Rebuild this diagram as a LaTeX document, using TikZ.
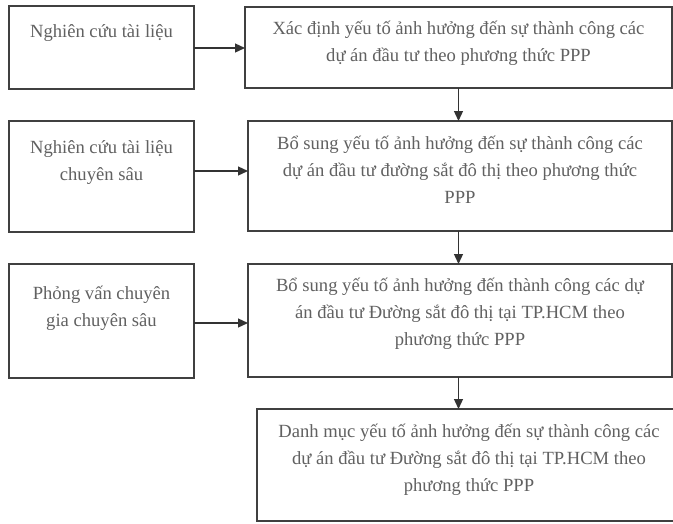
\documentclass[tikz,border=0pt]{standalone}
\usepackage{fontspec}
\setmainfont{Liberation Serif}
\usetikzlibrary{arrows.meta}
\tikzset{
  box/.style={draw=black!75, line width=1.7pt, fill=white, anchor=north west, inner sep=0pt, outer sep=0pt},
  txt/.style={text=black!62, align=center, inner sep=0pt, font=\fontsize{18.6}{27}\selectfont},
  arr/.style={draw=black!80, line width=1.3pt, -{Triangle[length=10pt,width=9pt]}}
}
\begin{document}
\begin{tikzpicture}[x=1pt,y=-1pt]
\useasboundingbox (0,0) rectangle (673,523);
\clip (0,0) rectangle (673,523);
% boxes
\node[box, minimum width=185pt, minimum height=83pt] (L1) at (9,6) {};
\node[box, minimum width=427pt, minimum height=81pt] (R1) at (245,7) {};
\node[box, minimum width=185pt, minimum height=111pt] (L2) at (9,121) {};
\node[box, minimum width=424pt, minimum height=110pt] (R2) at (248,121) {};
\node[box, minimum width=185pt, minimum height=114pt] (L3) at (9,264) {};
\node[box, minimum width=424pt, minimum height=113pt] (R3) at (248,264) {};
\node[box, minimum width=424pt, minimum height=112pt] (B4) at (257,409) {};
% texts
\node[txt] (tL1) at (101.5,33) {Nghiên cứu tài liệu};
\node[txt] (tR1) at (458.5,43.5) {Xác định yếu tố ảnh hưởng đến sự thành công các\\dự án đầu tư theo phương thức PPP};
\node[txt] (tL2) at (101.5,162.5) {Nghiên cứu tài liệu\\chuyên sâu};
\node[txt] (tR2) at (460,170) {Bổ sung yếu tố ảnh hưởng đến sự thành công các\\dự án đầu tư đường sắt đô thị theo phương thức\\PPP};
\node[txt] (tL3) at (101.5,308.5) {Phỏng vấn chuyên\\gia chuyên sâu};
\node[txt] (tR3) at (460,314) {Bổ sung yếu tố ảnh hưởng đến thành công các dự\\án đầu tư Đường sắt đô thị tại TP.HCM theo\\phương thức PPP};
\node[txt] (tB4) at (469,460) {Danh mục yếu tố ảnh hưởng đến sự thành công các\\dự án đầu tư Đường sắt đô thị tại TP.HCM theo\\phương thức PPP};
% arrows
\draw[arr] (L1.east |- 0,48) -- (R1.west |- 0,48);
\draw[arr] (L2.east |- 0,171) -- (R2.west |- 0,171);
\draw[arr] (L3.east |- 0,323) -- (R3.west |- 0,323);
\draw[arr] (R1.south) -- (R1.south |- R2.north);
\draw[arr] (R2.south -| R1.south) -- (R1.south |- R3.north);
\draw[arr] (R3.south -| R1.south) -- (R1.south |- B4.north);
\end{tikzpicture}
\end{document}
